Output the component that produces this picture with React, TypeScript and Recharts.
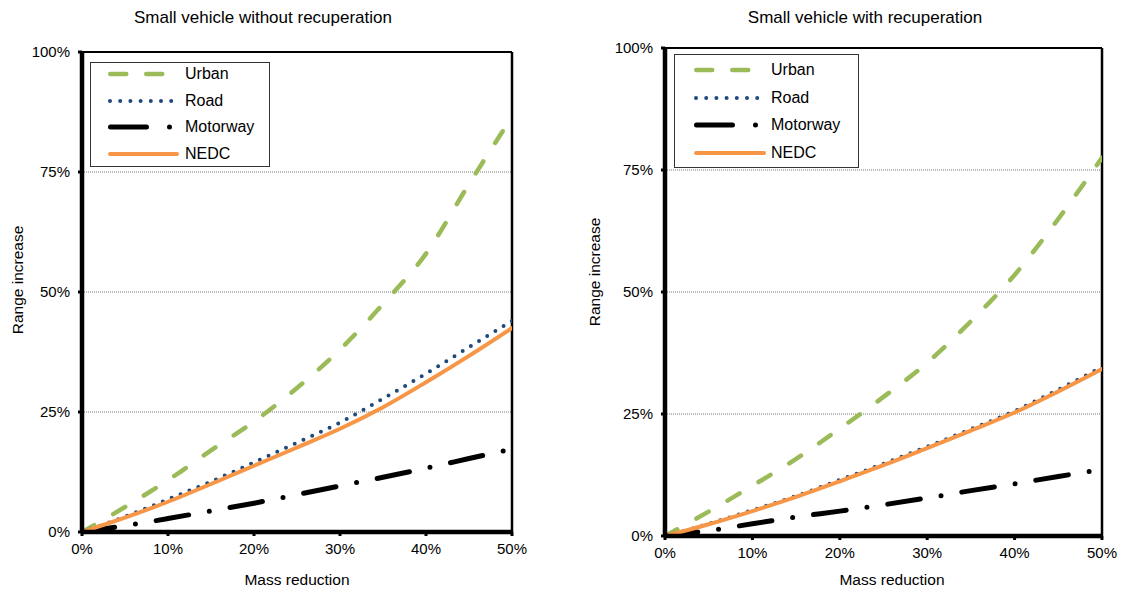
import { CartesianGrid, Line, LineChart, ReferenceLine, XAxis, YAxis } from 'recharts';

const massReduction = [0, 5, 10, 15, 20, 25, 30, 35, 40, 45, 50];
const xTicks = [0, 10, 20, 30, 40, 50];
const yTicks = [0, 25, 50, 75, 100];

// without recuperation
const urbanNoRecup = [0, 5.2, 10.8, 17, 23, 30, 38, 47.5, 58, 72.5, 86.5];
const roadNoRecup = [0, 3.2, 6.8, 10.5, 14.5, 18.6, 22.8, 27.8, 33, 38.5, 44];
const motorwayNoRecup = [0, 1.3, 2.8, 4.4, 6, 7.8, 9.6, 11.4, 13.3, 15.3, 17.3];
const nedcNoRecup = [0, 3, 6.3, 10, 13.8, 17.6, 21.5, 26, 31.2, 36.7, 42.5];

// with recuperation
const urbanRecup = [0, 5, 10.3, 15.8, 22, 28.5, 35.5, 44, 53.5, 65, 77.5];
const roadRecup = [0, 2.5, 5.3, 8.2, 11.5, 14.8, 18.3, 21.9, 25.6, 30, 34.6];
const motorwayRecup = [0, 1.1, 2.5, 3.9, 5.1, 6.4, 7.8, 9.3, 10.7, 12.2, 13.6];
const nedcRecup = [0, 2.4, 5.1, 8, 11.2, 14.5, 18, 21.6, 25.3, 29.6, 34.2];

const FONT = '"Liberation Sans", Arial, sans-serif';

const series = [
  { key: 'urban', name: 'Urban', color: '#9BBB59', width: 4.5, dash: '14 22' },
  { key: 'road', name: 'Road', color: '#1F497D', width: 4, dash: '0 9.6' },
  { key: 'motorway', name: 'Motorway', color: '#000000', width: 5, dash: '33 21 0 21' },
  { key: 'nedc', name: 'NEDC', color: '#F79646', width: 4, dash: undefined as string | undefined },
];

const legendDash: Record<string, string | undefined> = {
  urban: '16 20',
  road: '0 10.2',
  motorway: '36 23 0 23',
  nedc: undefined,
};

function buildRows(u: number[], r: number[], m: number[], n: number[]) {
  return massReduction.map((x, i) => ({ x, urban: u[i], road: r[i], motorway: m[i], nedc: n[i] }));
}

const rowsNoRecup = buildRows(urbanNoRecup, roadNoRecup, motorwayNoRecup, nedcNoRecup);
const rowsRecup = buildRows(urbanRecup, roadRecup, motorwayRecup, nedcRecup);

const pct = (v: number) => `${v}%`;

function LegendBox({ left, top, width, height, firstRow, spacing, lineX, lineW, textX }: any) {
  return (
    <div
      style={{
        position: 'absolute',
        left,
        top,
        width,
        height,
        border: '1px solid #333',
        background: '#fff',
        boxSizing: 'border-box',
        fontFamily: FONT,
        fontSize: 16,
      }}
    >
      {series.map((s, i) => {
        const cy = firstRow + i * spacing;
        return (
          <div key={s.key}>
            <svg
              width={lineW + 10}
              height={12}
              style={{ position: 'absolute', left: lineX - 5, top: cy - 6 }}
            >
              <line
                x1={5 + s.width / 2}
                x2={5 + lineW - s.width / 2}
                y1={6}
                y2={6}
                stroke={s.color}
                strokeWidth={s.width}
                strokeDasharray={legendDash[s.key]}
                strokeLinecap="round"
              />
            </svg>
            <span style={{ position: 'absolute', left: textX, top: cy - 10, lineHeight: '20px' }}>{s.name}</span>
          </div>
        );
      })}
    </div>
  );
}

function Panel({ rows, margin, title, titleX, yLabelX, yLabelY, xLabelX, legend }: any) {
  return (
    <div style={{ position: 'relative', width: 561, height: 592 }}>
      <LineChart width={561} height={592} data={rows} margin={margin}>
        <CartesianGrid vertical={false} stroke="#777" strokeDasharray="1 1" />
        <XAxis
          dataKey="x"
          type="number"
          domain={[0, 50]}
          ticks={xTicks}
          tickFormatter={pct}
          height={30}
          axisLine={{ stroke: '#000', strokeWidth: 4.5 }}
          tickLine={{ stroke: '#000', strokeWidth: 3 }}
          tickSize={4}
          tickMargin={7}
          tick={{ fill: '#000', fontSize: 15, fontFamily: FONT }}
          allowDataOverflow
        />
        <YAxis
          type="number"
          domain={[0, 100]}
          ticks={yTicks}
          tickFormatter={pct}
          width={60}
          axisLine={{ stroke: '#000', strokeWidth: 4.5 }}
          tickLine={{ stroke: '#000', strokeWidth: 3 }}
          tickSize={4}
          tickMargin={8}
          tick={{ fill: '#000', fontSize: 15, fontFamily: FONT }}
          allowDataOverflow
        />
        <ReferenceLine y={100} stroke="#000" strokeWidth={2} />
        <ReferenceLine x={50} stroke="#000" strokeWidth={2.5} />
        {series.map((s) => (
          <Line
            key={s.key}
            dataKey={s.key}
            name={s.name}
            type="monotone"
            stroke={s.color}
            strokeWidth={s.width}
            strokeDasharray={s.dash}
            strokeLinecap="round"
            dot={false}
            activeDot={false}
            isAnimationActive={false}
          />
        ))}
      </LineChart>
      <div
        style={{
          position: 'absolute',
          left: titleX - 200,
          width: 400,
          top: 8,
          textAlign: 'center',
          fontFamily: FONT,
          fontSize: 17,
          color: '#000',
        }}
      >
        {title}
      </div>
      <div
        style={{
          position: 'absolute',
          left: yLabelX - 100,
          top: yLabelY - 10,
          width: 200,
          height: 20,
          lineHeight: '20px',
          textAlign: 'center',
          transform: 'rotate(-90deg)',
          fontFamily: FONT,
          fontSize: 15.5,
          color: '#000',
        }}
      >
        Range increase
      </div>
      <div
        style={{
          position: 'absolute',
          left: xLabelX - 100,
          top: 570,
          width: 200,
          lineHeight: '20px',
          textAlign: 'center',
          fontFamily: FONT,
          fontSize: 15.5,
          color: '#000',
        }}
      >
        Mass reduction
      </div>
      <LegendBox {...legend} />
    </div>
  );
}

export default function App() {
  return (
    <div style={{ position: 'absolute', left: 0, top: 0, width: 1122, height: 592, background: '#fff' }}>
      <div style={{ position: 'absolute', left: 0, top: 0 }}>
        <Panel
          rows={rowsNoRecup}
          margin={{ top: 52, right: 49, bottom: 30, left: 22 }}
          title="Small vehicle without recuperation"
          titleX={263}
          yLabelX={18}
          yLabelY={280}
          xLabelX={297}
          legend={{ left: 90, top: 62, width: 180, height: 105, firstRow: 11, spacing: 26.5, lineX: 17, lineW: 71, textX: 94 }}
        />
      </div>
      <div style={{ position: 'absolute', left: 561, top: 0 }}>
        <Panel
          rows={rowsRecup}
          margin={{ top: 48, right: 20, bottom: 26, left: 44 }}
          title="Small vehicle with recuperation"
          titleX={304}
          yLabelX={34}
          yLabelY={272}
          xLabelX={331}
          legend={{ left: 113, top: 54, width: 185, height: 114, firstRow: 15, spacing: 27.7, lineX: 19, lineW: 72, textX: 96 }}
        />
      </div>
    </div>
  );
}
